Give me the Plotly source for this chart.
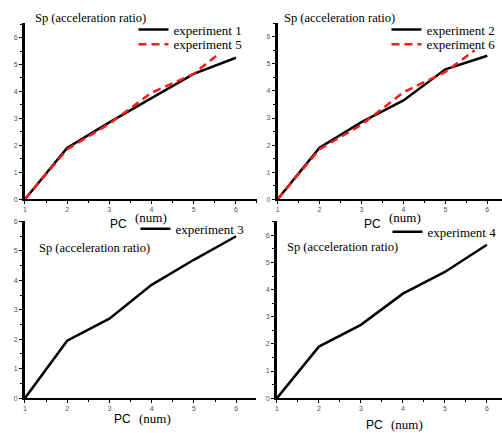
import plotly.graph_objects as go

W, H = 502, 433

pc = [1, 2, 3, 4, 5, 6]
exp1 = [0, 1.9, 2.85, 3.75, 4.65, 5.25]
exp5_x = [1, 2, 3, 4, 5, 5.6]
exp5 = [0, 1.85, 2.8, 3.95, 4.65, 5.4]
exp2 = [0, 1.9, 2.85, 3.65, 4.8, 5.3]
exp6_x = [1, 2, 3, 4, 5, 5.7]
exp6 = [0, 1.85, 2.75, 3.95, 4.7, 5.5]
exp3 = [0, 1.95, 2.7, 3.85, 4.7, 5.5]
exp4 = [0, 1.9, 2.7, 3.85, 4.65, 5.65]

y_title = "Sp (acceleration ratio)"
x_title_a = "PC"
x_title_b = "(num)"

SERIF = "Liberation Serif"
SANS = "Liberation Sans"

fig = go.Figure()

def px_x(p):
    return p / W

def px_y(p):
    return (H - p) / H

line_black = dict(color="black", width=2.5)
line_red = dict(color="#ff1a1a", width=2.5, dash="8px,5px")

fig.add_trace(go.Scatter(x=pc, y=exp1, mode="lines", line=line_black, name="experiment 1",
                         xaxis="x", yaxis="y", legend="legend"))
fig.add_trace(go.Scatter(x=exp5_x, y=exp5, mode="lines", line=line_red, name="experiment 5",
                         xaxis="x", yaxis="y", legend="legend2"))
fig.add_trace(go.Scatter(x=pc, y=exp2, mode="lines", line=line_black, name="experiment 2",
                         xaxis="x2", yaxis="y2", legend="legend3"))
fig.add_trace(go.Scatter(x=exp6_x, y=exp6, mode="lines", line=line_red, name="experiment 6",
                         xaxis="x2", yaxis="y2", legend="legend4"))
fig.add_trace(go.Scatter(x=pc, y=exp3, mode="lines", line=line_black, name="experiment 3",
                         xaxis="x3", yaxis="y3", legend="legend5"))
fig.add_trace(go.Scatter(x=pc, y=exp4, mode="lines", line=line_black, name="experiment 4",
                         xaxis="x4", yaxis="y4", legend="legend6"))

tickfont = dict(family=SANS, size=7, color="#555555")

def xax(domain, rng, anchor):
    return dict(domain=domain, range=rng, anchor=anchor, showline=True, linecolor="black",
                linewidth=1.5, ticks="outside", ticklen=3, tickwidth=1.2, tickcolor="black",
                tickvals=[1, 2, 3, 4, 5, 6], tickfont=tickfont, showgrid=False, zeroline=False,
                minor=dict(ticks="outside", ticklen=2, tickwidth=1, tickcolor="black", dtick=0.5,
                           tick0=1, showgrid=False),
                fixedrange=True)

def yax(domain, rng, anchor):
    return dict(domain=domain, range=rng, anchor=anchor, showline=True, linecolor="black",
                linewidth=2.5, ticks="outside", ticklen=3, tickwidth=1.2, tickcolor="black",
                tickvals=[0, 1, 2, 3, 4, 5, 6], tickfont=tickfont, showgrid=False, zeroline=False,
                minor=dict(ticks="outside", ticklen=2, tickwidth=1, tickcolor="black", dtick=0.5,
                           tick0=0, showgrid=False),
                fixedrange=True)

legfont = dict(family=SERIF, size=13, color="black")

def leg(xp, yp):
    return dict(x=px_x(xp), y=px_y(yp), xanchor="left", yanchor="middle", xref="paper", yref="paper",
                bgcolor="rgba(0,0,0,0)", font=legfont, itemwidth=30, tracegroupgap=0,
                traceorder="normal")

annots = []
def ann(text, xp, yp, font, xanchor="left"):
    annots.append(dict(text=text, x=px_x(xp), y=px_y(yp), xref="paper", yref="paper",
                       xanchor=xanchor, yanchor="middle", showarrow=False, font=font))

tfont = dict(family=SERIF, size=12.5, color="black")
ann(y_title, 31, 15, tfont)
ann(y_title, 281, 15, tfont)
ann(y_title, 35, 248, tfont)
ann(y_title, 284, 247, tfont)

pcfont = dict(family=SANS, size=12, color="black")
numfont = dict(family=SERIF, size=13, color="black")
# top panels' axis labels (partly hidden in reference)
ann(x_title_a, 128, 224, pcfont, "right")
ann(x_title_b, 132, 218, numfont)
ann(x_title_a, 383, 224, pcfont, "right")
ann(x_title_b, 387, 218, numfont)
# bottom panels' axis labels
ann(x_title_a, 132, 422, pcfont, "right")
ann(x_title_b, 136, 421, numfont)
ann(x_title_a, 385, 428, pcfont, "right")
ann(x_title_b, 389, 427, numfont)

fig.update_layout(
    width=W, height=H, margin=dict(l=0, r=0, t=0, b=0),
    paper_bgcolor="white", plot_bgcolor="rgba(0,0,0,0)",
    showlegend=True,
    xaxis=xax([23 / W, 256 / W], [1, 6.5], "y"),
    yaxis=yax([px_y(199), px_y(20)], [0, 6.55], "x"),
    xaxis2=xax([276.7 / W, 1.0], [1, 6.35], "y2"),
    yaxis2=yax([px_y(199), px_y(20)], [0, 6.52], "x2"),
    xaxis3=xax([23 / W, 255 / W], [1, 6.47], "y3"),
    yaxis3=yax([px_y(400.7), px_y(221)], [0, 6.02], "x3"),
    xaxis4=xax([276 / W, 1.0], [1, 6.36], "y4"),
    yaxis4=yax([px_y(400.7), px_y(221)], [0, 6.53], "x4"),
    legend=leg(132, 27),
    legend2=leg(132, 42),
    legend3=leg(386, 27),
    legend4=leg(386, 42),
    legend5=leg(134, 229),
    legend6=leg(387, 232),
    annotations=annots,
)

fig.write_html("out.html", config={"displayModeBar": False},
               post_script="document.body.style.margin='0';document.body.style.overflow='hidden';")
